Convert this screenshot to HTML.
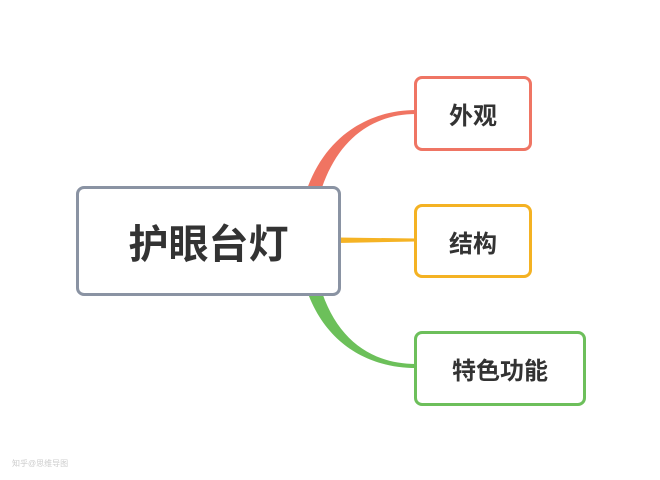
<!DOCTYPE html>
<html><head><meta charset="utf-8"><style>
body{margin:0;width:660px;height:480px;background:#fff;overflow:hidden;position:relative;font-family:"Liberation Sans","Noto Sans CJK SC",sans-serif}
.b{position:absolute;box-sizing:border-box;background:#fff;border-radius:8px;display:flex;align-items:center;justify-content:center;font-weight:bold;color:#333}
</style></head><body>
<svg width="660" height="480" style="position:absolute;left:0;top:0">
<path d="M306,192 C325,135 370,110 416,110 L416,114 C372,114 336,140 320,194 Z" fill="#f07462"/>
<path d="M338,237.5 L416,238.5 L416,241.5 L338,243 Z" fill="#f5b324"/>
<path d="M306,288 C325,345 370,368 416,368 L416,364 C372,364 336,340 320,286 Z" fill="#6cc05a"/>
</svg>
<div class="b" style="left:76px;top:186px;width:265px;height:110px;border:3px solid #8a93a3;font-size:40px">护眼台灯</div>
<div class="b" style="left:414px;top:76px;width:118px;height:75px;border:3px solid #ef7564;font-size:24px">外观</div>
<div class="b" style="left:414px;top:204px;width:118px;height:74px;border:3px solid #f4b223;font-size:24px">结构</div>
<div class="b" style="left:414px;top:331px;width:172px;height:75px;border:3px solid #6dbf5b;font-size:24px">特色功能</div>
<div style="position:absolute;left:12px;top:458px;font-size:8px;color:#ccc">知乎@思维导图</div>
</body></html>
